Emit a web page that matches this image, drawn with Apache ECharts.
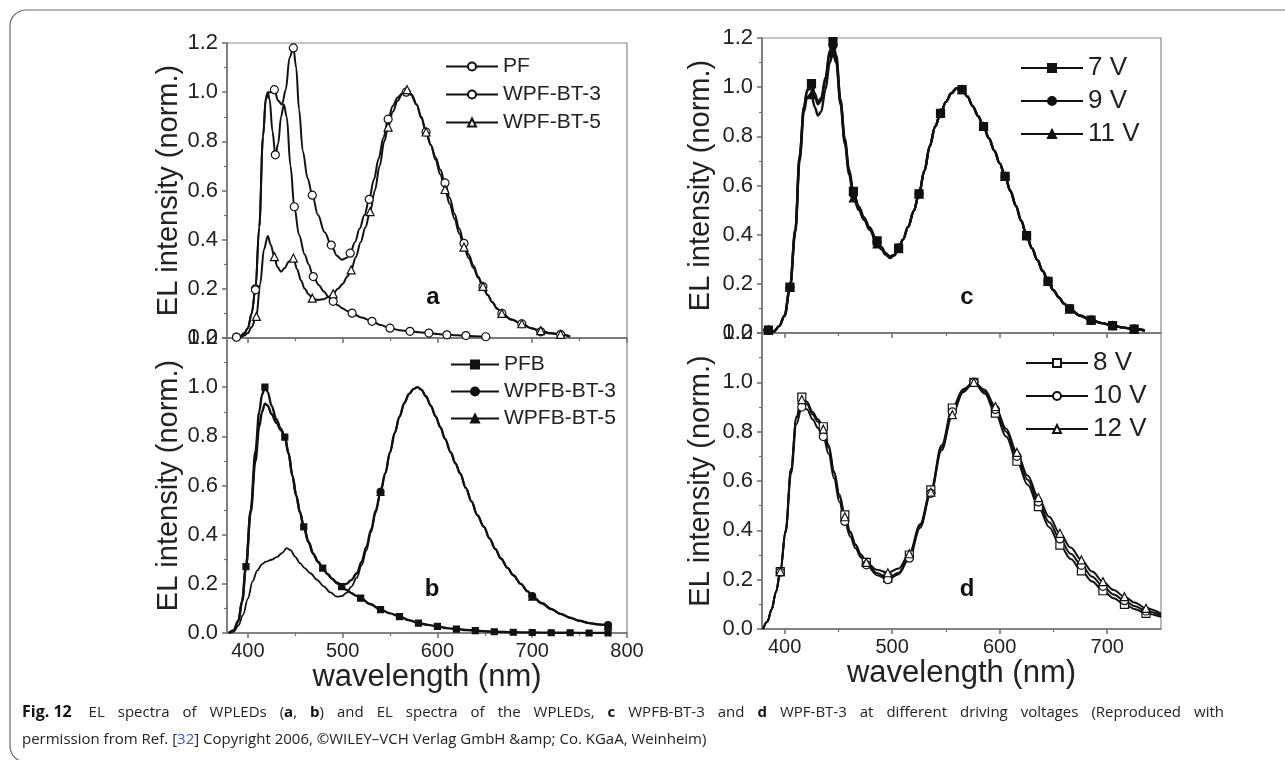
<!doctype html>
<html>
<head>
<meta charset="UTF-8">
<title>EL spectra of WPLEDs</title>
<script src="https://cdn.jsdelivr.net/npm/echarts@6.0.0/dist/echarts.min.js"></script>
<style>
    html, body { margin: 0; padding: 0; background: #fff; }
    #main { width: 1285px; height: 760px; }
</style>
</head>
<body>
<div id="main"></div>
<script>
// ---- panel a : PF / WPF-BT-3 / WPF-BT-5 (wavelength nm, EL norm.)
var pfA = [[384,0],[388,0.004],[392,0.008],[396,0.02],[400,0.04],[404,0.1],[408,0.2],[412,0.45],[416,0.82],[419,0.98],[421,1.0],[423,0.97],[426,0.84],[429,0.745],[432,0.79],[435,0.9],[438,0.95],[441,0.9],[445,0.7],[449,0.534],[454,0.42],[460,0.34],[464,0.3],[469,0.25],[475,0.215],[480,0.19],[485,0.168],[490,0.149],[495,0.133],[500,0.12],[505,0.11],[510,0.101],[520,0.083],[531,0.068],[540,0.053],[550,0.04],[560,0.032],[571,0.027],[581,0.023],[591,0.02],[600,0.016],[610,0.013],[620,0.011],[630,0.01],[640,0.007],[651,0.005]];
var wpf3A = [[384,0],[388,0.003],[392,0.006],[396,0.015],[400,0.04],[404,0.1],[408,0.196],[412,0.45],[416,0.82],[419,0.97],[422,1.0],[425,1.0],[428,1.01],[432,0.965],[436,0.95],[440,1.01],[444,1.14],[448,1.18],[451,1.1],[454,0.93],[458,0.76],[463,0.65],[468,0.581],[474,0.5],[481,0.43],[488,0.378],[494,0.335],[499,0.318],[504,0.325],[508,0.345],[513,0.39],[518,0.445],[523,0.5],[528,0.564],[533,0.645],[538,0.73],[543,0.815],[548,0.89],[553,0.945],[558,0.978],[563,0.996],[567,1.0],[572,0.99],[578,0.95],[583,0.9],[588,0.838],[593,0.785],[598,0.735],[603,0.685],[608,0.631],[613,0.57],[618,0.505],[623,0.445],[628,0.385],[633,0.34],[638,0.295],[643,0.25],[648,0.209],[653,0.175],[658,0.145],[663,0.12],[668,0.1],[678,0.075],[689,0.058],[699,0.04],[709,0.025],[720,0.018],[730,0.014],[740,0.005]];
var wpf5A = [[384,0],[388,0.002],[392,0.004],[396,0.01],[400,0.02],[404,0.045],[409,0.088],[413,0.22],[417,0.36],[421,0.415],[424,0.38],[428,0.331],[431,0.29],[435,0.27],[439,0.285],[443,0.31],[448,0.325],[452,0.28],[456,0.235],[460,0.2],[464,0.178],[468,0.162],[474,0.155],[480,0.158],[485,0.167],[490,0.18],[495,0.2],[500,0.22],[505,0.25],[509,0.277],[514,0.33],[519,0.39],[524,0.45],[529,0.514],[534,0.6],[539,0.7],[544,0.8],[548,0.858],[553,0.92],[558,0.965],[563,0.995],[568,1.01],[573,0.99],[578,0.95],[583,0.895],[588,0.838],[593,0.785],[598,0.725],[603,0.665],[608,0.604],[613,0.545],[618,0.485],[623,0.425],[628,0.37],[633,0.325],[638,0.285],[643,0.245],[648,0.21],[653,0.175],[658,0.145],[663,0.12],[668,0.1],[678,0.075],[689,0.058],[699,0.04],[709,0.03],[720,0.02],[730,0.015],[740,0.006]];
var markPF = [388,408,429,449,469,490,510,531,550,571,591,610,630,651];
var markWPF3 = [388,408,428,448,468,488,508,528,548,567,588,608,628,648,668,689,709,730];
var markWPF5 = [409,428,448,468,490,509,529,548,568,588,608,628,648,668,689,709,730];

// ---- panel b : PFB / WPFB-BT-3 / WPFB-BT-5
var pfbB = [[380,0],[385,0.01],[390,0.05],[394,0.13],[398,0.27],[403,0.5],[408,0.74],[412,0.9],[415,0.97],[418,1.0],[421,0.98],[425,0.925],[430,0.87],[435,0.83],[439,0.797],[443,0.73],[447,0.64],[451,0.56],[455,0.49],[459,0.432],[464,0.37],[469,0.322],[474,0.29],[479,0.264],[484,0.24],[489,0.22],[494,0.202],[499,0.189],[504,0.175],[509,0.163],[514,0.152],[519,0.142],[529,0.118],[540,0.095],[550,0.08],[560,0.067],[570,0.052],[580,0.04],[590,0.033],[600,0.027],[610,0.02],[620,0.016],[630,0.012],[640,0.01],[650,0.007],[660,0.005],[680,0.003],[700,0.002],[720,0.001],[740,0.001],[760,0],[780,0]];
var wpfb3B = [[380,0],[385,0.01],[390,0.05],[394,0.13],[398,0.27],[403,0.49],[408,0.7],[412,0.84],[415,0.9],[418,0.933],[421,0.925],[425,0.89],[430,0.855],[435,0.825],[439,0.797],[443,0.73],[447,0.64],[451,0.56],[455,0.49],[459,0.432],[464,0.37],[469,0.322],[474,0.29],[479,0.264],[484,0.24],[489,0.22],[494,0.205],[499,0.196],[504,0.2],[509,0.215],[515,0.243],[520,0.29],[525,0.35],[530,0.42],[535,0.5],[540,0.574],[545,0.65],[550,0.735],[555,0.815],[560,0.88],[565,0.935],[570,0.972],[575,0.993],[579,1.0],[583,0.99],[588,0.962],[593,0.925],[598,0.882],[603,0.838],[608,0.79],[614,0.735],[619,0.69],[624,0.649],[630,0.59],[636,0.535],[642,0.48],[649,0.432],[655,0.385],[661,0.342],[667,0.303],[674,0.265],[680,0.235],[688,0.2],[695,0.17],[700,0.15],[710,0.122],[720,0.098],[730,0.078],[740,0.062],[750,0.05],[760,0.04],[770,0.035],[780,0.032]];
var wpfb5B = [[380,0],[385,0.005],[390,0.03],[395,0.075],[400,0.14],[405,0.21],[410,0.255],[415,0.28],[419,0.29],[425,0.298],[431,0.31],[436,0.325],[441,0.345],[445,0.337],[450,0.31],[455,0.284],[460,0.264],[466,0.243],[473,0.216],[480,0.19],[487,0.165],[494,0.148],[499,0.15],[504,0.163],[509,0.188],[515,0.225],[520,0.275],[525,0.335],[530,0.41],[535,0.49],[540,0.574],[545,0.65],[550,0.735],[555,0.815],[560,0.88],[565,0.935],[570,0.972],[575,0.993],[579,1.0],[583,0.99],[588,0.962],[593,0.925],[598,0.882],[603,0.838],[608,0.79],[614,0.735],[619,0.69],[624,0.649],[630,0.59],[636,0.535],[642,0.48],[649,0.432],[655,0.385],[661,0.342],[667,0.303],[674,0.265],[680,0.235],[688,0.2],[695,0.17],[700,0.148],[710,0.12],[720,0.096],[730,0.077],[740,0.061],[750,0.049],[760,0.04],[770,0.034],[780,0.03]];
var markPFB = [398,418,439,459,479,499,519,540,560,580,600,620,640,660,680,700,720,740,760,780];
var markWPFB = [540,700,780];

// ---- panel c : WPFB-BT-3 at 7 / 9 / 11 V
var v7C = [[380,0.012],[385,0.012],[390,0.006],[395,0.028],[400,0.07],[405,0.187],[410,0.42],[414,0.72],[418,0.92],[421,0.99],[425,1.015],[428,0.975],[431,0.94],[434,0.955],[438,1.04],[442,1.15],[445,1.185],[448,1.13],[452,0.95],[456,0.79],[460,0.665],[464,0.576],[469,0.515],[474,0.47],[479,0.43],[486,0.375],[490,0.35],[494,0.325],[498,0.312],[502,0.318],[506,0.345],[510,0.38],[515,0.432],[520,0.495],[525,0.566],[530,0.66],[535,0.76],[540,0.84],[545,0.894],[550,0.94],[555,0.975],[560,0.996],[565,0.99],[570,0.962],[575,0.922],[580,0.882],[585,0.84],[590,0.792],[595,0.742],[600,0.69],[605,0.637],[610,0.578],[615,0.518],[620,0.457],[625,0.396],[630,0.345],[635,0.297],[640,0.252],[645,0.21],[650,0.174],[655,0.145],[660,0.119],[665,0.098],[675,0.07],[685,0.052],[695,0.04],[705,0.03],[715,0.022],[725,0.016],[735,0.01]];
var v9C = [[380,0.012],[385,0.012],[390,0.006],[395,0.028],[400,0.07],[405,0.185],[410,0.42],[414,0.72],[418,0.92],[421,0.985],[425,1.005],[428,0.965],[431,0.93],[434,0.945],[438,1.03],[442,1.14],[445,1.17],[448,1.12],[452,0.94],[456,0.78],[460,0.655],[464,0.565],[469,0.505],[474,0.46],[479,0.425],[486,0.37],[490,0.345],[494,0.322],[498,0.31],[502,0.318],[506,0.345],[510,0.38],[515,0.432],[520,0.495],[525,0.566],[530,0.66],[535,0.76],[540,0.84],[545,0.894],[550,0.94],[555,0.975],[560,0.996],[565,0.99],[570,0.962],[575,0.922],[580,0.882],[585,0.84],[590,0.792],[595,0.742],[600,0.69],[605,0.637],[610,0.578],[615,0.518],[620,0.457],[625,0.396],[630,0.345],[635,0.297],[640,0.252],[645,0.21],[650,0.174],[655,0.145],[660,0.119],[665,0.098],[675,0.07],[685,0.052],[695,0.04],[705,0.03],[715,0.022],[725,0.016],[735,0.01]];
var v11C = [[380,0.012],[385,0.012],[390,0.006],[395,0.028],[400,0.07],[405,0.185],[410,0.41],[414,0.7],[418,0.9],[421,0.96],[425,0.97],[428,0.92],[431,0.885],[434,0.9],[438,0.99],[442,1.1],[445,1.14],[448,1.1],[452,0.93],[456,0.77],[460,0.645],[464,0.55],[469,0.5],[474,0.46],[479,0.42],[486,0.362],[490,0.34],[494,0.318],[498,0.305],[502,0.315],[506,0.343],[510,0.38],[515,0.432],[520,0.495],[525,0.566],[530,0.66],[535,0.76],[540,0.84],[545,0.894],[550,0.94],[555,0.975],[560,0.996],[565,0.99],[570,0.962],[575,0.922],[580,0.882],[585,0.84],[590,0.792],[595,0.742],[600,0.69],[605,0.637],[610,0.578],[615,0.518],[620,0.457],[625,0.396],[630,0.345],[635,0.297],[640,0.252],[645,0.21],[650,0.174],[655,0.145],[660,0.119],[665,0.098],[675,0.07],[685,0.052],[695,0.04],[705,0.03],[715,0.022],[725,0.016],[735,0.01]];
var markC = [385,405,425,445,464,486,506,525,545,565,585,605,625,645,665,685,705,725];

// ---- panel d : WPF-BT-3 at 8 / 10 / 12 V
var v8D = [[380,0],[384,0.03],[388,0.08],[392,0.15],[396,0.233],[401,0.4],[406,0.65],[411,0.86],[416,0.94],[421,0.92],[426,0.88],[431,0.85],[436,0.82],[441,0.745],[446,0.64],[451,0.545],[456,0.463],[461,0.395],[466,0.343],[471,0.302],[476,0.27],[486,0.227],[496,0.206],[506,0.228],[516,0.3],[526,0.425],[536,0.564],[546,0.745],[556,0.896],[566,0.972],[576,1.0],[586,0.955],[596,0.875],[606,0.78],[616,0.68],[626,0.585],[636,0.496],[646,0.413],[656,0.34],[666,0.284],[676,0.236],[686,0.193],[696,0.155],[706,0.125],[716,0.1],[726,0.08],[736,0.063],[750,0.049]];
var v10D = [[380,0],[384,0.03],[388,0.08],[392,0.15],[396,0.23],[401,0.39],[406,0.63],[411,0.83],[416,0.9],[421,0.89],[426,0.85],[431,0.815],[436,0.78],[441,0.71],[446,0.61],[451,0.515],[456,0.436],[461,0.375],[466,0.327],[471,0.29],[476,0.26],[486,0.218],[496,0.2],[506,0.222],[516,0.287],[526,0.41],[536,0.55],[546,0.735],[556,0.88],[566,0.965],[576,1.0],[586,0.962],[596,0.89],[606,0.8],[616,0.7],[626,0.605],[636,0.515],[646,0.433],[656,0.365],[666,0.305],[676,0.258],[686,0.212],[696,0.173],[706,0.14],[716,0.115],[726,0.092],[736,0.073],[750,0.055]];
var v12D = [[380,0],[384,0.03],[388,0.08],[392,0.15],[396,0.233],[401,0.4],[406,0.65],[411,0.855],[416,0.93],[421,0.91],[426,0.87],[431,0.84],[436,0.81],[441,0.735],[446,0.632],[451,0.535],[456,0.455],[461,0.39],[466,0.34],[471,0.3],[476,0.27],[486,0.24],[496,0.228],[506,0.245],[516,0.305],[526,0.42],[536,0.555],[546,0.725],[556,0.869],[566,0.96],[576,1.0],[586,0.97],[596,0.902],[606,0.812],[616,0.716],[626,0.622],[636,0.533],[646,0.455],[656,0.388],[666,0.33],[676,0.28],[686,0.233],[696,0.192],[706,0.158],[716,0.131],[726,0.106],[736,0.084],[750,0.062]];
var markD = [396,416,436,456,476,496,516,536,556,576,596,616,636,656,676,696,716,736];

// axis ticks
var ticksAB = [400,500,600,700,800];
var minorAB = [450,550,650,750];
var ticksCD = [400,500,600,700];
var minorCD = [450,550,650];

var fontFam = '"Liberation Sans", Arial, sans-serif';
var capFam = '"Open Sans", sans-serif';
var ink = '#222';
var axisGrey = '#6e6e6e';

var grids = [
    {left: 227, top: 43, width: 400, height: 295},
    {left: 227, top: 338, width: 400, height: 295},
    {left: 762, top: 38, width: 399, height: 295},
    {left: 762, top: 333, width: 399, height: 296}
];
grids.forEach(function (g) {
    g.show = true;
    g.borderColor = '#8a8a8a';
    g.borderWidth = 1.2;
});

function mainX(gi, min, max, ticks, labels, named) {
    return {
        type: 'value', gridIndex: gi, min: min, max: max,
        axisLine: {show: true, lineStyle: {color: axisGrey, width: 1.5}},
        axisTick: {show: true, inside: false, length: 5, customValues: ticks, lineStyle: {color: axisGrey, width: 1.5}},
        axisLabel: {show: labels, customValues: ticks, margin: 8, color: ink, fontSize: 20, fontFamily: fontFam},
        splitLine: {show: false},
        name: named ? 'wavelength (nm)' : '', nameLocation: 'middle', nameGap: 27,
        nameTextStyle: {fontSize: 31, color: ink, fontFamily: fontFam}
    };
}
function minorX(gi, min, max, ticks) {
    return {
        type: 'value', gridIndex: gi, min: min, max: max, position: 'bottom',
        axisLine: {show: false},
        axisTick: {show: true, inside: false, length: 3, customValues: ticks, lineStyle: {color: axisGrey, width: 1.2}},
        axisLabel: {show: false},
        splitLine: {show: false}
    };
}
function yAx(gi, gap) {
    return {
        type: 'value', gridIndex: gi, min: 0, max: 1.2, interval: 0.2,
        axisLine: {show: true, lineStyle: {color: axisGrey, width: 1.5}},
        axisTick: {show: true, inside: false, length: 5, lineStyle: {color: axisGrey, width: 1.5}},
        minorTick: {show: true, splitNumber: 2, length: 3, lineStyle: {color: axisGrey, width: 1.2}},
        splitLine: {show: false},
        minorSplitLine: {show: false},
        axisLabel: {margin: 9, color: ink, fontSize: 22, fontFamily: fontFam,
            formatter: function (v) { return v.toFixed(1); }},
        name: 'EL intensity (norm.)', nameLocation: 'middle', nameRotate: 90, nameGap: gap,
        nameTextStyle: {fontSize: 29, color: ink, fontFamily: fontFam}
    };
}

function curve(name, data, marks, gi, symbol, filled, size, lw) {
    return {
        name: name, type: 'line', xAxisIndex: gi * 2, yAxisIndex: gi,
        data: data, smooth: 0.35, smoothMonotone: 'x',
        symbol: symbol,
        symbolSize: function (v) { return marks.indexOf(v[0]) >= 0 ? size : 0; },
        showSymbol: true,
        lineStyle: {color: '#111', width: lw},
        itemStyle: {color: filled ? '#111' : '#fff', borderColor: '#111', borderWidth: 1.2},
        emphasis: {disabled: true},
        silent: true
    };
}

function legendAt(names, left, top, lineW, size, gap) {
    return {
        data: names, orient: 'vertical', left: left, top: top, padding: 0,
        itemWidth: lineW, itemHeight: 10, itemGap: gap, selectedMode: false,
        textStyle: {fontSize: size, color: ink, fontFamily: fontFam}
    };
}

var series = [
    curve('PF', pfA, markPF, 0, 'circle', false, 8, 2),
    curve('WPF-BT-3', wpf3A, markWPF3, 0, 'circle', false, 8, 2),
    curve('WPF-BT-5', wpf5A, markWPF5, 0, 'triangle', false, 8, 2),
    curve('PFB', pfbB, markPFB, 1, 'rect', true, 6, 2.4),
    curve('WPFB-BT-3', wpfb3B, markWPFB, 1, 'circle', true, 7, 2.4),
    curve('WPFB-BT-5', wpfb5B, markWPFB, 1, 'triangle', true, 7, 1.8),
    curve('7 V', v7C, markC, 2, 'rect', true, 8, 2.4),
    curve('9 V', v9C, markC, 2, 'circle', true, 8, 2.4),
    curve('11 V', v11C, markC, 2, 'triangle', true, 8, 2.4),
    curve('8 V', v8D, markD, 3, 'rect', false, 8, 2),
    curve('10 V', v10D, markD, 3, 'circle', false, 8, 2),
    curve('12 V', v12D, markD, 3, 'triangle', false, 8, 2)
];

// caption: first line is justified to the full width, like in the paper
var capRich = {
    b: {fontWeight: 'bold', fontSize: 15, fontFamily: capFam, fill: '#111'},
    f: {fontWeight: 'bold', fontSize: 16, fontFamily: capFam, fill: '#111'},
    l: {fontSize: 15, fontFamily: capFam, fill: '#2f5fbf'},
    s: {fontSize: 15, fontFamily: capFam, width: 13}
};
var capWords1 = ['{f|Fig. 12} ', 'EL', 'spectra', 'of', 'WPLEDs', '({b|a},', '{b|b})', 'and', 'EL', 'spectra', 'of', 'the',
    'WPLEDs,', '{b|c}', 'WPFB-BT-3', 'and', '{b|d}', 'WPF-BT-3', 'at', 'different', 'driving', 'voltages', '(Reproduced', 'with'];
var capLine2 = 'permission from Ref. [{l|32}] Copyright 2006, ©WILEY–VCH Verlag GmbH &amp; Co. KGaA, Weinheim)';
var caption = capWords1.join('{s| }') + '\n' + capLine2;

var letters = [['a', 433, 297], ['b', 432, 589], ['c', 967, 297], ['d', 967, 589]];

var chart = echarts.init(document.getElementById('main'), null, {renderer: 'canvas'});
chart.setOption({
    animation: false,
    backgroundColor: '#fff',
    grid: grids,
    xAxis: [
        mainX(0, 378, 800, ticksAB, false, false), minorX(0, 378, 800, minorAB),
        mainX(1, 378, 800, ticksAB, true, true), minorX(1, 378, 800, minorAB),
        mainX(2, 379, 750, ticksCD, false, false), minorX(2, 379, 750, minorCD),
        mainX(3, 379, 750, ticksCD, true, true), minorX(3, 379, 750, minorCD)
    ],
    yAxis: [yAx(0, 44), yAx(1, 44), yAx(2, 47), yAx(3, 47)],
    legend: [
        legendAt(['PF', 'WPF-BT-3', 'WPF-BT-5'], 445, 56, 52, 21, 7),
        legendAt(['PFB', 'WPFB-BT-3', 'WPFB-BT-5'], 450, 354, 48, 21, 6),
        legendAt(['7 V', '9 V', '11 V'], 1020, 55, 62, 26, 7),
        legendAt(['8 V', '10 V', '12 V'], 1025, 350, 62, 26, 7)
    ],
    series: series,
    graphic: [
        {type: 'rect', silent: true, shape: {x: 10, y: 10, width: 1400, height: 752, r: 16},
            style: {fill: 'none', stroke: '#666', lineWidth: 1.2}},
        {type: 'text', left: 22, top: 699, silent: true,
            style: {text: caption, rich: capRich, fontSize: 15, fontFamily: capFam,
                fill: '#222', lineHeight: 27}}
    ].concat(letters.map(function (l) {
        return {type: 'text', x: l[1], y: l[2], silent: true,
            style: {text: l[0], font: 'bold 24px ' + fontFam, fill: '#111',
                align: 'center', verticalAlign: 'middle', textAlign: 'center', textVerticalAlign: 'middle'}};
    }))
});
</script>
</body>
</html>
